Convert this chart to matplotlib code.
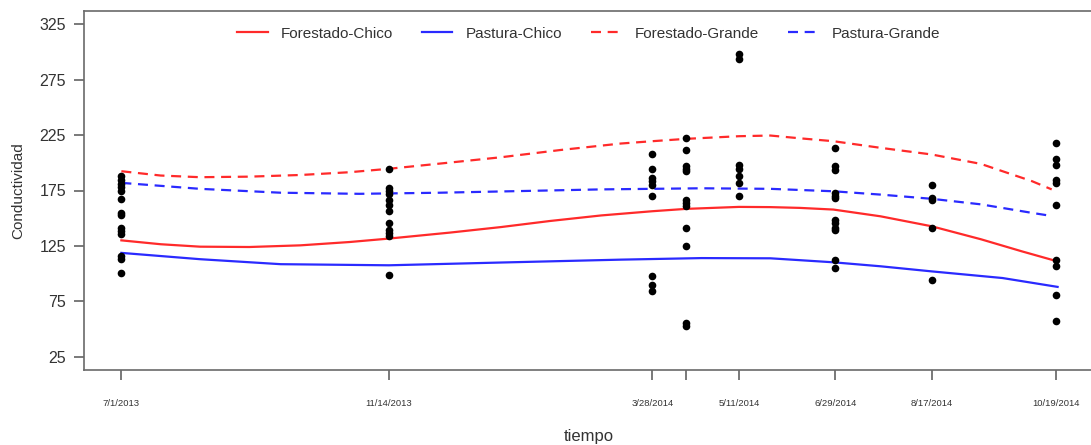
import numpy as np
import pandas as pd
import matplotlib
matplotlib.use("Agg")
import matplotlib.pyplot as plt

plt.rcParams['font.family'] = ['Liberation Sans', 'DejaVu Sans']

# fechas de muestreo y conductividad observada
fechas = ["2013-07-01", "2013-11-14", "2014-03-28", "2014-04-14",
          "2014-05-11", "2014-06-29", "2014-08-17", "2014-10-19"]
etiquetas_x = ["7/1/2013", "11/14/2013", "3/28/2014", "",
               "5/11/2014", "6/29/2014", "8/17/2014", "10/19/2014"]

obs = {
    "2013-07-01": [187.9, 184.3, 181.3, 178.3, 174.3, 167.5, 154.8, 153.3,
                   141.3, 138.2, 136.1, 115.6, 113.3, 100.6],
    "2013-11-14": [194.6, 177.4, 174.3, 172.0, 166.8, 162.3, 156.3, 145.8,
                   139.7, 136.7, 133.7, 99.1],
    "2014-03-28": [208.0, 194.6, 186.4, 183.4, 180.4, 170.4, 97.5, 90.0, 84.0],
    "2014-04-14": [222.6, 212.0, 197.0, 194.6, 192.4, 166.8, 163.8, 160.8,
                   141.3, 124.6, 55.4, 52.4],
    "2014-05-11": [298.0, 294.0, 198.4, 194.6, 187.9, 181.9, 170.4],
    "2014-06-29": [213.5, 196.9, 193.9, 172.9, 169.8, 168.4, 148.8, 145.8,
                   141.3, 139.7, 112.6, 105.1],
    "2014-08-17": [179.8, 168.4, 166.8, 141.3, 94.6],
    "2014-10-19": [218.0, 203.6, 197.8, 184.9, 181.9, 162.3, 112.6, 106.6,
                   81.0, 57.5],
}

# curvas ajustadas (dias desde 7/1/2013, valor)
dias_fc = [0, 20, 40, 65, 91, 116, 136, 167, 193, 218, 244, 270, 287, 314,
           330, 345, 362, 386, 412, 437, 458, 476]
forestado_chico = [130.0, 126.5, 124.3, 124.0, 125.5, 128.5, 131.6, 137.0,
                   142.0, 147.5, 152.5, 156.3, 158.4, 160.2, 160.0, 159.3,
                   157.8, 151.7, 142.7, 131.0, 120.0, 111.0]

dias_pc = [0, 40, 81, 136, 193, 254, 295, 330, 362, 386, 412, 448, 476]
pastura_chico = [118.7, 113.0, 108.5, 107.5, 110.0, 112.6, 114.0, 113.8,
                 110.2, 106.6, 102.0, 96.0, 88.0]

dias_fg = [0, 20, 40, 65, 91, 116, 136, 162, 193, 223, 254, 270, 287, 314,
           330, 345, 362, 386, 412, 437, 463, 473]
forestado_grande = [192.4, 188.5, 187.0, 187.5, 189.0, 191.5, 194.6, 199.3,
                    205.0, 211.5, 217.4, 219.5, 221.6, 224.0, 224.6, 222.1,
                    219.5, 213.5, 207.5, 199.0, 183.4, 176.0]

dias_pg = [0, 40, 81, 121, 162, 203, 244, 295, 330, 362, 386, 412, 437,
           463, 473]
pastura_grande = [181.9, 176.5, 173.0, 172.0, 173.0, 174.5, 176.0, 177.0,
                  176.5, 174.3, 171.3, 167.5, 162.5, 154.8, 152.0]

inicio = pd.Timestamp(fechas[0])


def a_fecha(dias):
    return [inicio + pd.Timedelta(days=d) for d in dias]


fig = plt.figure(figsize=(10.91, 4.45), dpi=100)
ax = fig.add_axes([84 / 1091, 75 / 445, 1009 / 1091, 359 / 445])

for f in fechas:
    vals = obs[f]
    ax.plot([pd.Timestamp(f)] * len(vals), vals, 'o', color='black',
            markersize=5.5, markeredgewidth=0, zorder=3)

ax.plot(a_fecha(dias_fc), forestado_chico, color='#ff2a2a', lw=1.6,
        label='Forestado-Chico')
ax.plot(a_fecha(dias_pc), pastura_chico, color='#2a2aff', lw=1.6,
        label='Pastura-Chico')
ax.plot(a_fecha(dias_fg), forestado_grande, color='#ff2a2a', lw=1.6,
        dashes=(4.5, 3), label='Forestado-Grande')
ax.plot(a_fecha(dias_pg), pastura_grande, color='#2a2aff', lw=1.6,
        dashes=(4.5, 3), label='Pastura-Grande')

# limites estilo R (4% extra)
t0 = pd.Timestamp(fechas[0])
t1 = pd.Timestamp(fechas[-1])
pad = (t1 - t0) * 0.04
ax.set_xlim(t0 - pad, t1 + pad)
ax.set_ylim(25 - 12, 325 + 12)

ax.set_xticks([pd.Timestamp(f) for f in fechas])
ax.set_xticklabels(etiquetas_x, fontsize=6.8, color='#333333')
ax.set_yticks(np.arange(25, 326, 50))
ax.tick_params(axis='y', labelsize=11.5, colors='#555555', labelcolor='#333333',
               length=7, width=1.1, pad=6)
ax.tick_params(axis='x', colors='#555555', labelcolor='#333333',
               length=7, width=1.1, pad=14)

for s in ['left', 'bottom', 'top', 'right']:
    ax.spines[s].set_color('#6a6a6a')
    ax.spines[s].set_linewidth(1.2)

ax.set_xlabel('tiempo', fontsize=12, color='#333333', labelpad=15)
ax.set_ylabel('Conductividad', fontsize=11, color='#333333', labelpad=10)

ax.legend(loc='upper center', bbox_to_anchor=(0.5, 0.995), ncol=4,
          frameon=False, fontsize=11, handlelength=2.0, handletextpad=0.85,
          columnspacing=1.9, labelcolor='#333333')

fig.savefig('out.png', dpi=100)
